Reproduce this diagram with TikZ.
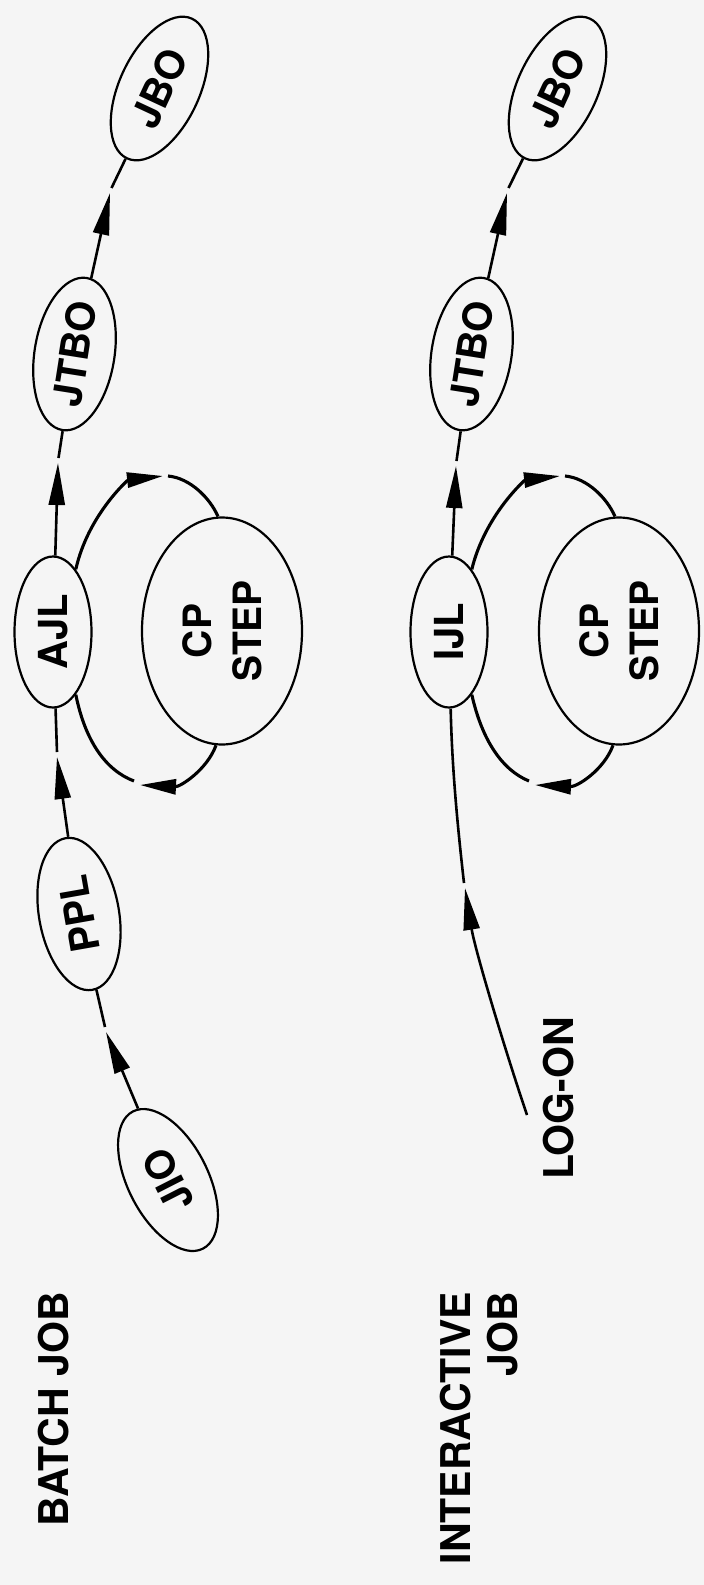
\documentclass[tikz,border=0pt]{standalone}
\usepackage{fontspec}
\setmainfont{TeX Gyre Heros}
\usetikzlibrary{arrows.meta,shapes.geometric}
\definecolor{paper}{RGB}{245,245,245}
\begin{document}
\begin{tikzpicture}[x=1pt,y=-1pt,
  blob/.style={draw, ellipse, line width=2.2pt, inner sep=0pt,
    minimum width=154pt, minimum height=80pt,
    font=\bfseries\fontsize{40}{48}\selectfont},
  bigblob/.style={blob, minimum width=227pt, minimum height=160pt,
    align=center, font=\bfseries\fontsize{39}{50}\selectfont},
  conn/.style={line width=2.6pt},
  arc/.style={line width=3.1pt},
  head/.style={-{Triangle[length=42pt,width=16pt]}},
  loophead/.style={-{Triangle[length=36pt,width=15pt]}},
  title/.style={rotate=90, anchor=north east, inner sep=0pt, align=right,
    font=\bfseries\fontsize{41}{47}\selectfont}]

\fill[paper] (0,0) rectangle (704,1585);
\useasboundingbox (0,0) rectangle (704,1585);

% ---------------- batch job ----------------
\node[blob, rotate=117] (jio)  at (168,1180)  {JIO};
\node[blob, rotate=100] (ppl)  at (79,914)    {PPL};
\node[blob, rotate=90, minimum width=151pt, minimum height=77pt] (ajl) at (53,632) {AJL};
\node[blob, rotate=81]  (jtbo) at (74.5,354)  {JTBO};
\node[blob, rotate=65]  (jbo)  at (159.5,88.5) {JBO};
\node[bigblob, rotate=90] (cp) at (222,631) {CP\\STEP};

\node[title] (batch) at (38,1292) {BATCH JOB};

% arrow tips and the small breaks just past them
\coordinate (t1) at (106,1032); \coordinate (g1) at (105,1027);
\coordinate (t2) at (57,757);   \coordinate (g2) at (57,752);
\coordinate (t3) at (58,463);   \coordinate (g3) at (58.5,458);
\coordinate (t4) at (110,193);  \coordinate (g4) at (111.5,188);

\draw[conn, head] (jio) -- (t1);  \draw[conn] (g1) -- (ppl);
\draw[conn, head] (ppl) -- (t2);  \draw[conn] (g2) -- (ajl);
\draw[conn, head] (ajl) -- (t3);  \draw[conn] (g3) -- (jtbo);
\draw[conn, head] (jtbo) -- (t4); \draw[conn] (g4) -- (jbo);

% loop through the CP step
\coordinate (ta) at (163,476); \coordinate (ga) at (168,476);
\coordinate (tb) at (140,785); \coordinate (gb) at (134,781);
\draw[arc, loophead] (ajl.-20.6) .. controls (88,515) and (128,480) .. (ta);
\draw[arc] (ga) .. controls (190,478) and (210,498) .. (cp.2);
\draw[arc, loophead] (cp.177.5) .. controls (207,770) and (180,787) .. (tb);
\draw[arc] (gb) .. controls (105,770) and (85,740) .. (ajl.200);

% ---------------- interactive job ----------------
\node[blob, rotate=90, minimum width=151pt, minimum height=77pt] (ijl) at (449,632) {IJL};
\node[blob, rotate=81]  (jtbo2) at (471.5,354) {JTBO};
\node[blob, rotate=65]  (jbo2)  at (557.5,88.5) {JBO};
\node[bigblob, rotate=90] (cp2) at (619,631) {CP\\STEP};

\node[title] (inter) at (440,1292) {INTERACTIVE\\JOB};
\node[title] (logon) at (543,1017) {LOG-ON};

\coordinate (lstart) at (527,1115);
\coordinate (t5) at (465,888);  \coordinate (g5) at (464,883);
\coordinate (t6) at (456,466);  \coordinate (g6) at (456.5,461);
\coordinate (t7) at (507,193);  \coordinate (g7) at (508.5,188);

\draw[conn, head] (lstart) .. controls (505,1050) and (475,950) .. (t5);
\draw[conn] (g5) .. controls (458,830) and (452,770) .. (ijl);
\draw[conn, head] (ijl) -- (t6);   \draw[conn] (g6) -- (jtbo2);
\draw[conn, head] (jtbo2) -- (t7); \draw[conn] (g7) -- (jbo2);

\coordinate (tc) at (560,476); \coordinate (gc) at (565,476);
\coordinate (td) at (535,785); \coordinate (gd) at (529,781);
\draw[arc, loophead] (ijl.-20.6) .. controls (485,515) and (525,480) .. (tc);
\draw[arc] (gc) .. controls (587,478) and (607,498) .. (cp2.2);
\draw[arc, loophead] (cp2.177.5) .. controls (604,770) and (577,787) .. (td);
\draw[arc] (gd) .. controls (502,770) and (482,740) .. (ijl.200);
\end{tikzpicture}
\end{document}
